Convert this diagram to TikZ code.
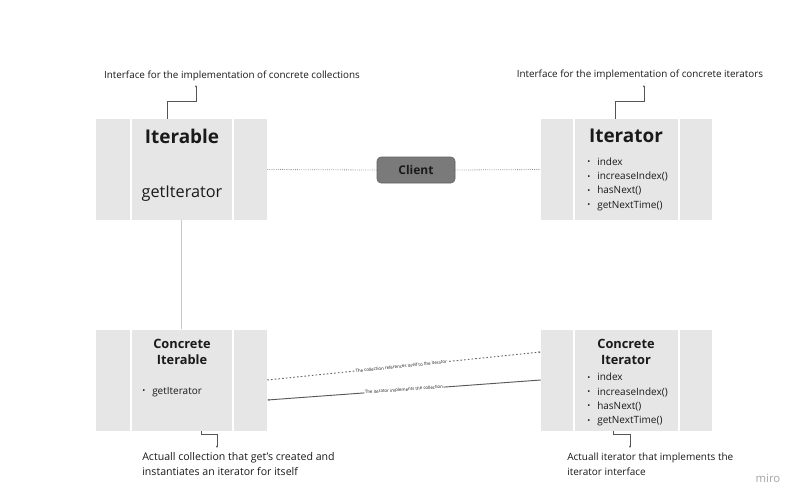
\documentclass[tikz,border=0pt]{standalone}
\usepackage{fontspec}
\setmainfont{Open Sans}
\usetikzlibrary{arrows.meta,calc}
\definecolor{boxfill}{HTML}{E6E6E6}
\definecolor{annline}{HTML}{555555}
\definecolor{txt}{HTML}{1A1A1A}
\definecolor{clientfill}{HTML}{7A7A7A}
\definecolor{dotline}{HTML}{8A8A8A}
\tikzset{
  classbox/.style={fill=boxfill, draw=none, minimum width=128.25pt, minimum height=75.75pt, inner sep=0pt},
  divider/.style={draw=white, line width=0.8pt},
  annot/.style={draw=annline, line width=0.6pt, -{Latex[length=1.6pt,width=1.6pt]}},
  annottext/.style={font=\fontsize{7.4}{11.25}\selectfont, text=txt, inner sep=0pt},
  annottextb/.style={font=\fontsize{7.95}{11.25}\selectfont, text=txt, inner sep=0pt, align=left, anchor=north west},
  bigtitle/.style={font=\fontsize{14.2}{17}\selectfont\bfseries, text=txt, inner sep=0pt},
  midtitle/.style={font=\fontsize{9.6}{12}\selectfont\bfseries, text=txt, inner sep=0pt, align=center},
  items/.style={font=\fontsize{7.5}{10.7}\selectfont, text=txt, inner sep=0pt, align=left, anchor=north west},
  tinylabel/.style={font=\fontsize{3.3}{3.5}\selectfont, text=txt, fill=white, inner sep=0.4pt, sloped},
}
\newcommand{\bul}{\makebox[7.5pt][l]{\fontsize{6}{6}\selectfont\raisebox{0.4pt}{\textbullet}}}
\begin{document}
\begin{tikzpicture}[x=0.75pt,y=-0.75pt]
\useasboundingbox[fill=white] (0,0) rectangle (800,501);

% class boxes
\node[classbox] (iterable) at (181.5,169.5) {};
\node[classbox] (iterator) at (626.5,169.5) {};
\node[classbox] (citerable) at (181.5,380) {};
\node[classbox] (citerator) at (626.5,380) {};

% dividers
\foreach \b/\xa/\xb in {iterable/131/233, citerable/131/233, iterator/574/679, citerator/574/679}{
  \draw[divider] (\b.north -| \xa,0) -- (\b.south -| \xa,0);
  \draw[divider] (\b.north -| \xb,0) -- (\b.south -| \xb,0);
}

% Iterable content
\node[bigtitle] (t1) at (182,136) {Iterable};
\node[font=\fontsize{12.2}{15}\selectfont, text=txt, inner sep=0pt] (m1) at (182,194) {getIterator};

% Iterator content
\node[bigtitle] (t2) at (626,136) {Iterator};
\node[items] (l2) at (587,157.5) {\bul index\\ \bul increaseIndex()\\ \bul hasNext()\\ \bul getNextTime()};

% Concrete Iterable
\node[midtitle] (t3) at (182,352) {Concrete\\Iterable};
\node[items] (l3) at (142,387) {\bul getIterator};

% Concrete Iterator
\node[midtitle] (t4) at (626,352) {Concrete\\Iterator};
\node[items] (l4) at (587,373) {\bul index\\ \bul increaseIndex()\\ \bul hasNext()\\ \bul getNextTime()};

% Client
\node[fill=clientfill, draw=clientfill!80!black, line width=0.4pt, rounded corners=3pt, minimum width=58.5pt, minimum height=19.5pt, inner sep=0pt, font=\fontsize{9}{11}\selectfont\bfseries, text=txt] (client) at (416,170) {Client};

% connectors
\draw[dotline, densely dotted, line width=0.6pt] (iterable.east) -- (client.west);
\draw[dotline, densely dotted, line width=0.6pt] (client.east) -- (iterator.west);
\draw[draw=black!22, line width=0.8pt] (iterable.south) -- (citerable.south |- citerable.north);

\draw[draw=black!60, dashed, dash pattern=on 1.2pt off 1.6pt, line width=0.7pt, -{Latex[length=1.5pt,width=1.5pt]}]
  (citerable.east) -- node[tinylabel, pos=0.49] {The collection references itself to the iterator} ([yshift=21pt]citerator.west);
\draw[draw=black!65, line width=0.7pt, -{Latex[length=1.5pt,width=1.5pt]}]
  (citerator.west) -- node[tinylabel, pos=0.5] {The iterator implements the collection} ([yshift=-15pt]citerable.east);

% annotations
\node[annottext] (a1) at (232,76) {Interface for the implementation of concrete collections};
\node[annottext] (a2) at (640,75) {Interface for the implementation of concrete iterators};
\node[annottextb] (a3) at (142,452.5) {Actuall collection that get's created and\\instantiates an iterator for itself};
\node[annottextb, font=\fontsize{7.5}{11.25}\selectfont] (a4) at (567,452.5) {Actuall iterator that implements the\\iterator interface};

\coordinate (e1) at (196,85);
\coordinate (e2) at (644,85);
\coordinate (e3) at (217,448);
\coordinate (e4) at (630,448);
\draw[annot] ([xshift=-10.9pt]iterable.north) -- ++(0,-17) -| (e1);
\draw[annot] ([xshift=-8.2pt]iterator.north) -- ++(0,-17) -| (e2);
\draw[annot] ([xshift=14.6pt]citerable.south) -- ++(0,4) -| (e3);
\draw[annot] ([xshift=-10pt]citerator.south) -- ++(0,4) -| (e4);

% watermark
\node[font=\fontsize{8.5}{10}\selectfont, text=black!35, inner sep=0pt] (miro) at (768,478) {miro};
\end{tikzpicture}
\end{document}
